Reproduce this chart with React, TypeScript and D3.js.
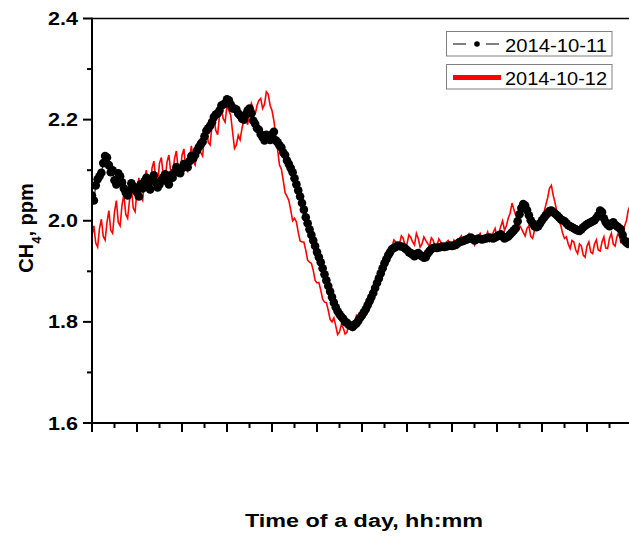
import React from "react";
import * as d3 from "d3";

// CH4 concentration (ppm). "on" arrays: readings on each 10-minute mark (00:00 ... 24:00);
// "mid" arrays: readings taken 5 minutes after each mark.
const STEP_MINUTES = 5;

const day1011On: number[] = [
  2.050, 2.070, 2.088, 2.114, 2.125, 2.096, 2.080, 2.094, 2.076, 2.056,
  2.060, 2.068, 2.056, 2.072, 2.078, 2.070, 2.084, 2.076, 2.072, 2.086,
  2.078, 2.090, 2.096, 2.100, 2.104, 2.110, 2.118, 2.123, 2.139, 2.151,
  2.167, 2.183, 2.195, 2.210, 2.218, 2.230, 2.240, 2.230, 2.222, 2.212,
  2.202, 2.210, 2.222, 2.198, 2.183, 2.171, 2.159, 2.165, 2.171, 2.159,
  2.149, 2.135, 2.119, 2.104, 2.084, 2.060, 2.035, 2.007, 1.983, 1.961,
  1.938, 1.918, 1.894, 1.871, 1.849, 1.829, 1.815, 1.806, 1.798, 1.792,
  1.794, 1.802, 1.813, 1.825, 1.841, 1.857, 1.877, 1.896, 1.916, 1.932,
  1.944, 1.948, 1.950, 1.948, 1.942, 1.936, 1.930, 1.936, 1.930, 1.928,
  1.940, 1.946, 1.946, 1.948, 1.948, 1.950, 1.950, 1.952, 1.958, 1.960,
  1.963, 1.967, 1.961, 1.965, 1.963, 1.965, 1.967, 1.965, 1.969, 1.973,
  1.965, 1.969, 1.977, 1.985, 2.013, 2.033, 2.021, 2.001, 1.989, 1.989,
  2.001, 2.011, 2.019, 2.017, 2.011, 2.003, 1.999, 1.991, 1.987, 1.983,
  1.980, 1.987, 1.993, 1.997, 2.001, 2.011, 2.017, 1.997, 1.989, 1.997,
  1.989, 1.983, 1.961, 1.954, 1.961,
];

const day1011Mid: number[] = [
  2.040, 2.082, 2.095, 2.128, 2.110, 2.100, 2.072, 2.088, 2.064, 2.050,
  2.074, 2.062, 2.048, 2.064, 2.085, 2.062, 2.090, 2.066, 2.080, 2.092,
  2.072, 2.085, 2.106, 2.094, 2.112, 2.106, 2.128, 2.130, 2.146, 2.156,
  2.178, 2.188, 2.205, 2.212, 2.228, 2.232, 2.238, 2.222, 2.220, 2.208,
  2.200, 2.218, 2.212, 2.192, 2.180, 2.165, 2.170, 2.160, 2.176, 2.155,
  2.145, 2.130, 2.112, 2.096, 2.072, 2.048, 2.022, 1.995, 1.972, 1.950,
  1.928, 1.906, 1.882, 1.860, 1.838, 1.821, 1.810, 1.800, 1.794, 1.790,
  1.797, 1.808, 1.819, 1.833, 1.849, 1.867, 1.886, 1.906, 1.924, 1.938,
  1.946, 1.951, 1.949, 1.945, 1.938, 1.933, 1.934, 1.932, 1.927, 1.935,
  1.944, 1.947, 1.947, 1.949, 1.949, 1.951, 1.951, 1.955, 1.959, 1.962,
  1.965, 1.964, 1.963, 1.964, 1.964, 1.966, 1.966, 1.967, 1.971, 1.969,
  1.967, 1.973, 1.981, 1.999, 2.025, 2.030, 2.011, 1.995, 1.987, 1.995,
  2.006, 2.015, 2.020, 2.014, 2.007, 2.001, 1.995, 1.989, 1.985, 1.981,
  1.983, 1.990, 1.995, 1.999, 2.006, 2.020, 2.005, 1.992, 1.994, 1.992,
  1.986, 1.972, 1.957, 1.958,
];

const day1012On: number[] = [
  1.971, 1.956, 1.985, 1.969, 1.997, 1.981, 2.017, 1.997, 2.031, 2.013,
  2.040, 2.025, 2.060, 2.046, 2.084, 2.064, 2.104, 2.080, 2.114, 2.090,
  2.116, 2.096, 2.123, 2.100, 2.129, 2.104, 2.123, 2.116, 2.143, 2.135,
  2.169, 2.155, 2.189, 2.179, 2.208, 2.202, 2.228, 2.208, 2.143, 2.169,
  2.183, 2.202, 2.214, 2.222, 2.228, 2.242, 2.230, 2.250, 2.218, 2.169,
  2.110, 2.080, 2.048, 2.021, 2.005, 1.977, 1.958, 1.942, 1.918, 1.902,
  1.877, 1.863, 1.839, 1.823, 1.800, 1.792, 1.780, 1.788, 1.780, 1.792,
  1.800, 1.804, 1.819, 1.831, 1.849, 1.863, 1.882, 1.902, 1.918, 1.938,
  1.948, 1.958, 1.954, 1.965, 1.954, 1.967, 1.952, 1.965, 1.954, 1.961,
  1.950, 1.961, 1.952, 1.958, 1.950, 1.961, 1.950, 1.958, 1.965, 1.956,
  1.969, 1.960, 1.952, 1.969, 1.961, 1.969, 1.960, 1.977, 1.969, 1.989,
  1.981, 2.005, 2.035, 2.011, 1.991, 1.977, 1.985, 1.969, 1.981, 1.989,
  2.001, 2.031, 2.064, 2.050, 2.017, 1.991, 1.965, 1.954, 1.961, 1.942,
  1.954, 1.932, 1.950, 1.938, 1.954, 1.942, 1.958, 1.946, 1.965, 1.954,
  1.969, 1.958, 1.989, 2.021, 2.011,
];

const day1012Mid: number[] = [
  1.990, 1.948, 2.003, 1.962, 2.020, 1.975, 2.040, 1.990, 2.052, 2.005,
  2.065, 2.018, 2.085, 2.040, 2.100, 2.058, 2.118, 2.072, 2.125, 2.082,
  2.130, 2.088, 2.138, 2.092, 2.142, 2.098, 2.148, 2.110, 2.160, 2.128,
  2.185, 2.150, 2.205, 2.170, 2.222, 2.195, 2.218, 2.175, 2.150, 2.160,
  2.200, 2.190, 2.232, 2.210, 2.238, 2.222, 2.255, 2.228, 2.198, 2.140,
  2.102, 2.055, 2.040, 2.000, 1.998, 1.960, 1.958, 1.922, 1.916, 1.882,
  1.878, 1.845, 1.838, 1.805, 1.808, 1.775, 1.795, 1.776, 1.795, 1.785,
  1.812, 1.805, 1.830, 1.836, 1.862, 1.868, 1.898, 1.906, 1.932, 1.940,
  1.962, 1.950, 1.970, 1.950, 1.972, 1.958, 1.975, 1.948, 1.968, 1.955,
  1.966, 1.948, 1.964, 1.946, 1.958, 1.955, 1.962, 1.952, 1.970, 1.960,
  1.974, 1.965, 1.958, 1.975, 1.958, 1.978, 1.968, 1.985, 1.975, 2.000,
  1.990, 2.015, 2.022, 2.000, 1.985, 1.970, 1.990, 1.965, 1.994, 1.985,
  2.015, 2.045, 2.070, 2.035, 2.000, 1.975, 1.968, 1.945, 1.958, 1.935,
  1.950, 1.928, 1.958, 1.935, 1.962, 1.940, 1.968, 1.945, 1.975, 1.950,
  1.978, 1.962, 2.000, 2.030,
];

const seriesNames = ["2014-10-11", "2014-10-12"];
const yTickValues = [1.6, 1.8, 2.0, 2.2, 2.4];
const yMinorTicks = [1.7, 1.9, 2.1, 2.3];
const xTickHours = [0, 2, 4, 6, 8, 10, 12, 14, 16, 18, 20, 22, 24];
const xMinorHours = [1, 3, 5, 7, 9, 11, 13, 15, 17, 19, 21, 23];
const xTitle = "Time of a day, hh:mm";

const W = 629;
const H = 539;
const left = 92;
const right = 632;
const top = 18.5;
const bottom = 423;
const FONT = "Arial, 'Liberation Sans', sans-serif";

type Pt = { t: number; v: number };

function merge(on: number[], mid: number[]): Pt[] {
  const out: Pt[] = [];
  on.forEach((v, i) => {
    out.push({ t: (2 * i * STEP_MINUTES) / 60, v });
    if (i < mid.length) out.push({ t: ((2 * i + 1) * STEP_MINUTES) / 60, v: mid[i] });
  });
  return out;
}

export default function App() {
  const x = d3.scaleLinear().domain([0, 24]).range([left, right]);
  const y = d3.scaleLinear().domain([1.6, 2.4]).range([bottom, top]);

  const black = merge(day1011On, day1011Mid);
  const red = merge(day1012On, day1012Mid);

  const line = d3
    .line<Pt>()
    .x((d) => x(d.t))
    .y((d) => y(d.v));

  return (
    <svg
      width={W}
      height={H}
      style={{ position: "absolute", left: 0, top: 0, background: "#fff" }}
    >
      <defs>
        <clipPath id="plotclip">
          <rect x={left} y={top} width={right - left} height={bottom - top} />
        </clipPath>
      </defs>
      <rect x={0} y={0} width={W} height={H} fill="#fff" />

      <g clipPath="url(#plotclip)">
        <path d={line(red) || ""} fill="none" stroke="#ff0000" strokeWidth={1.6} strokeLinejoin="miter" />
        <path d={line(black) || ""} fill="none" stroke="#000" strokeWidth={1} />
        {black.map((d, i) => (
          <circle key={i} cx={x(d.t)} cy={y(d.v)} r={4.3} fill="#000" />
        ))}
      </g>

      {/* frame */}
      <line x1={left} x2={right} y1={top} y2={top} stroke="#000" strokeWidth={1.5} />
      <line x1={left} x2={left} y1={top - 0.75} y2={bottom + 1} stroke="#000" strokeWidth={2} />
      <line x1={left - 1} x2={right} y1={bottom} y2={bottom} stroke="#000" strokeWidth={2} />

      {/* y ticks */}
      {yTickValues.map((v) => (
        <g key={"y" + v}>
          <line x1={left - 9} x2={left} y1={y(v)} y2={y(v)} stroke="#000" strokeWidth={2} />
          <text
            x={78}
            y={y(v) + 6.5}
            textAnchor="end"
            fontFamily={FONT}
            fontWeight="bold"
            fontSize={18}
            textLength={30}
            lengthAdjust="spacingAndGlyphs"
          >
            {v.toFixed(1)}
          </text>
        </g>
      ))}
      {yMinorTicks.map((v) => (
        <line key={"ym" + v} x1={left - 5} x2={left} y1={y(v)} y2={y(v)} stroke="#000" strokeWidth={2} />
      ))}

      {/* x ticks */}
      {xTickHours.map((h) => (
        <line key={"x" + h} x1={x(h)} x2={x(h)} y1={bottom} y2={bottom + 9} stroke="#000" strokeWidth={2} />
      ))}
      {xMinorHours.map((h) => (
        <line key={"xm" + h} x1={x(h)} x2={x(h)} y1={bottom} y2={bottom + 5} stroke="#000" strokeWidth={2} />
      ))}

      {/* axis titles */}
      <text
        x={364}
        y={527}
        textAnchor="middle"
        fontFamily={FONT}
        fontWeight="bold"
        fontSize={18}
        textLength={238}
        lengthAdjust="spacingAndGlyphs"
      >
        {xTitle}
      </text>
      <text
        transform="translate(33,228) rotate(-90)"
        textAnchor="middle"
        fontFamily={FONT}
        fontWeight="bold"
        fontSize={20}
      >
        CH<tspan baselineShift="sub" fontSize={13}>4</tspan>, ppm
      </text>

      {/* legend */}
      <rect x={446.5} y={31.5} width={165.5} height={24.5} fill="#fff" stroke="#808080" strokeWidth={1} />
      <line x1={453} x2={466} y1={44} y2={44} stroke="#000" strokeWidth={1} />
      <circle cx={477} cy={44} r={2.8} fill="#000" />
      <line x1={486} x2={499} y1={44} y2={44} stroke="#000" strokeWidth={1} />
      <text x={505} y={51.5} fontFamily={FONT} fontSize={18} textLength={102} lengthAdjust="spacingAndGlyphs">
        {seriesNames[0]}
      </text>

      <rect x={446.5} y={64.5} width={165.5} height={24.5} fill="#fff" stroke="#808080" strokeWidth={1} />
      <line x1={453} x2={501} y1={77.5} y2={77.5} stroke="#ff0000" strokeWidth={5} />
      <text x={505} y={84.5} fontFamily={FONT} fontSize={18} textLength={102} lengthAdjust="spacingAndGlyphs">
        {seriesNames[1]}
      </text>
    </svg>
  );
}
